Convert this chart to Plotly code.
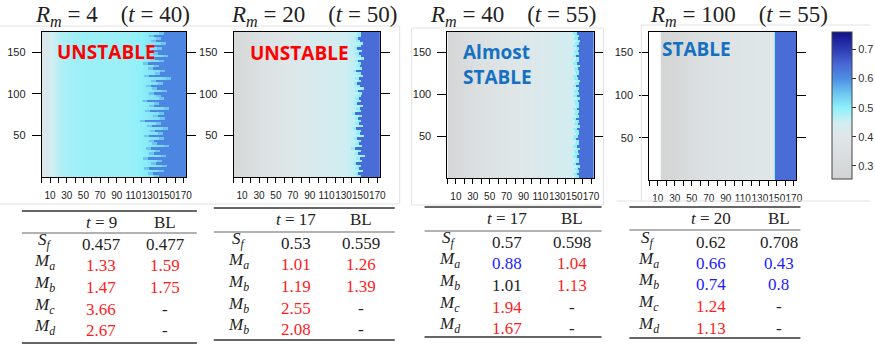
import plotly.graph_objects as go

W, H = 875, 347

# ---------------- data ----------------
titles_rm = ["4", "20", "40", "100"]
titles_t = ["40", "50", "55", "55"]
status_text = ["UNSTABLE", "UNSTABLE", "Almost<br>STABLE", "STABLE"]

# background profile anchors (x position -> value)
bg_x = [0, 10, 20, 30, 40, 50, 60, 70, 80, 90, 100, 110, 120, 130, 140, 150, 160, 170]
bg1 = [0.39, 0.44, 0.47, 0.48, 0.485, 0.49, 0.49, 0.49, 0.49, 0.49, 0.49, 0.495, 0.50, 0.51, 0.52, 0.53, 0.54, 0.55]
bg2 = [0.29, 0.31, 0.33, 0.35, 0.37, 0.385, 0.395, 0.405, 0.415, 0.42, 0.43, 0.435, 0.44, 0.45, 0.46, 0.47, 0.48, 0.49]
bg3 = [0.28, 0.30, 0.32, 0.34, 0.355, 0.37, 0.38, 0.39, 0.40, 0.405, 0.41, 0.415, 0.42, 0.43, 0.44, 0.45, 0.46, 0.47]
bg_x4 = [19, 30, 40, 50, 60, 70, 80, 90, 100, 110, 120, 130, 140, 150, 160, 170]
bg4 = [0.27, 0.29, 0.31, 0.33, 0.345, 0.36, 0.37, 0.38, 0.385, 0.39, 0.395, 0.40, 0.40, 0.405, 0.41, 0.41]

# front position (x) of the high-value region for each row (bottom -> top)
front1 = [141, 133, 147, 129, 150, 137, 144, 127, 149, 135,
          142, 131, 153, 138, 134, 146, 128, 145, 136, 151,
          132, 143, 124, 148, 139, 146, 130, 152, 135, 141,
          126, 147, 143, 134, 150, 138, 131, 145, 137, 155,
          129, 142, 148, 133, 140, 127, 146, 136, 151, 139,
          132, 144, 130, 149, 137, 143, 135, 147]
front2 = [150, 147, 153, 148, 151, 145, 152, 149, 155, 147,
          150, 143, 152, 148, 151, 146, 154, 149, 150, 145,
          153, 148, 151, 147, 152, 144, 150, 149, 153, 146,
          151, 148, 150, 152, 147, 154, 149, 146, 151, 148,
          153, 150, 145, 152, 149, 151, 147, 154, 150, 148,
          152, 146, 150, 153, 149, 147, 151, 150]
front3 = [155, 153, 156, 154, 157, 152, 155, 156, 153, 155,
          154, 157, 153, 155, 156, 152, 154, 156, 155, 153,
          157, 154, 155, 152, 156, 154, 155, 153, 156, 155,
          154, 157, 153, 155, 154, 156, 152, 155, 157, 154,
          153, 156, 155, 154, 157, 153, 155, 156, 152, 155,
          154, 156, 153, 155, 157, 154, 155, 153]
front4 = [148] * 58
front_val = [0.61, 0.645, 0.64, 0.645]
fringe_val = [0.55, 0.50, 0.50, 0.50]
fringe_w = [6, 4, 4, 2]

# tables
row_labels = [
    ["S_f", "M_a", "M_b", "M_c", "M_d"],
    ["S_f", "M_a", "M_b", "M_b", "M_b"],
    ["S_f", "M_a", "M_b", "M_c", "M_d"],
    ["S_f", "M_a", "M_b", "M_c", "M_d"],
]
t_head = ["9", "17", "17", "20"]
t_vals = [
    ["0.457", "1.33", "1.47", "3.66", "2.67"],
    ["0.53", "1.01", "1.19", "2.55", "2.08"],
    ["0.57", "0.88", "1.01", "1.94", "1.67"],
    ["0.62", "0.66", "0.74", "1.24", "1.13"],
]
bl_vals = [
    ["0.477", "1.59", "1.75", "-", "-"],
    ["0.559", "1.26", "1.39", "-", "-"],
    ["0.598", "1.04", "1.13", "-", "-"],
    ["0.708", "0.43", "0.8", "-", "-"],
]
# k = black, r = red, b = blue
t_cols = [list("krrrr"), list("krrrr"), list("kbkrr"), list("kbbrr")]
bl_cols = [list("krrkk"), list("krrkk"), list("krrkk"), list("kbbkk")]

cbar_ticks = [0.3, 0.4, 0.5, 0.6, 0.7]
x_labels = [10, 30, 50, 70, 90, 110, 130, 150, 170]
y_labels = [50, 100, 150]

# ---------------- helpers ----------------
def px(x):
    return x / W

def py(y):
    return 1 - y / H

COL = {"k": "#222222", "r": "#ff1c1c", "b": "#1c1cff"}
colorscale = [
    [0.0, "#d3d3d3"],
    [0.287, "#dfe6e8"],
    [0.386, "#d0eef2"],
    [0.485, "#8ef0fa"],
    [0.584, "#6cc4f0"],
    [0.683, "#4e8ee4"],
    [0.782, "#4868d6"],
    [0.88, "#2f3cb4"],
    [1.0, "#10108a"],
]

row_y = [1.5 + 3 * i for i in range(58)]
col_x = [0.5 + i for i in range(175)]

def front_z(front, fval, fr_val, fr_w):
    z = []
    for f in front:
        row = []
        for c in col_x:
            if c >= f:
                row.append(fval)
            elif c >= f - fr_w:
                row.append(fr_val)
            else:
                row.append(None)
        z.append(row)
    return z

# panel geometry in pixels (left, right, top, bottom)
panels = [(42, 187, 32, 177), (235, 382, 32, 177), (450, 597, 32, 178), (653, 801, 32, 180)]
bgs = [(bg_x, bg1), (bg_x, bg2), (bg_x, bg3), (bg_x4, bg4)]
fronts = [front1, front2, front3, front4]

fig = go.Figure()
layout = dict(
    width=W, height=H, margin=dict(l=0, r=0, t=0, b=0),
    paper_bgcolor="white", plot_bgcolor="white", showlegend=False,
    coloraxis=dict(
        colorscale=colorscale, cmin=0.255, cmax=0.76,
        colorbar=dict(
            x=px(837), xanchor="left", xref="paper", xpad=0, ypad=0,
            y=py(32), yanchor="top", len=147 / H, lenmode="fraction",
            thickness=20, thicknessmode="pixels",
            outlinecolor="#444", outlinewidth=1,
            tickvals=cbar_ticks, ticktext=[str(v) for v in cbar_ticks],
            ticks="outside", ticklen=4, tickcolor="#333",
            tickfont=dict(family="Liberation Sans", size=11, color="#333"),
        ),
    ),
)

shapes = []
annotations = []

for i, (l, r, t, b) in enumerate(panels):
    n = "" if i == 0 else str(i + 1)
    xa, ya = "x" + n, "y" + n
    bx, bz = bgs[i]
    fig.add_trace(go.Heatmap(x=bx, y=[0, 175], z=[bz, bz], coloraxis="coloraxis",
                             zsmooth="best", xaxis=xa, yaxis=ya, hoverinfo="skip"))
    fig.add_trace(go.Heatmap(x=col_x, y=row_y,
                             z=front_z(fronts[i], front_val[i], fringe_val[i], fringe_w[i]),
                             coloraxis="coloraxis", xaxis=xa, yaxis=ya, hoverinfo="skip"))
    layout["xaxis" + n] = dict(
        domain=[px(l), px(r)], range=[0, 173], anchor=ya,
        showgrid=False, zeroline=False, showline=True, linecolor="black", linewidth=1,
        mirror=True, ticks="outside", ticklen=5, tickcolor="black", tickangle=0,
        tickmode="array", tickvals=x_labels, ticklabelstandoff=4,
        minor=dict(tick0=0, dtick=10, ticks="outside", ticklen=5, tickcolor="black", showgrid=False),
        tickfont=dict(family="Liberation Sans", size=10, color="#222"),
    )
    layout["yaxis" + n] = dict(
        domain=[py(b), py(t)], range=[0.5, 174], anchor=xa,
        showgrid=False, zeroline=False, showline=True, linecolor="black", linewidth=1,
        mirror="ticks", ticks="outside", ticklen=9, tickcolor="black",
        tickvals=y_labels, ticklabelstandoff=4,
        tickfont=dict(family="Liberation Sans", size=11, color="#222"),
    )

# titles
title_cx = [113, 316, 516, 743]
for i in range(4):
    annotations.append(dict(
        x=px(title_cx[i]), y=py(16), xref="paper", yref="paper",
        xanchor="center", yanchor="middle", showarrow=False,
        text="<i>R</i><sub><i>m</i></sub> = " + titles_rm[i] + "\u00a0\u00a0\u00a0\u00a0(<i>t</i> = " + titles_t[i] + ")",
        font=dict(family="Liberation Serif", size=23, color="#222"),
    ))

# status labels
status_pos = [(107, 52, "center", "#ff0000"), (301, 53, "center", "#ff0000"),
              (464, 64, "left", "#1570c2"), (664, 49, "left", "#1570c2")]
for i, (sx, sy, anc, c) in enumerate(status_pos):
    annotations.append(dict(
        x=px(sx), y=py(sy), xref="paper", yref="paper", xanchor=anc, yanchor="middle",
        showarrow=False, align="left", text="<b>" + status_text[i] + "</b>",
        font=dict(family="Open Sans", size=19, color=c),
    ))

# faint screenshot frames
def fline(x0, y0, x1, y1):
    shapes.append(dict(type="line", xref="paper", yref="paper", x0=px(x0), y0=py(y0),
                       x1=px(x1), y1=py(y1), line=dict(color="#e2e2e2", width=1)))

fline(0, 26, 402, 26); fline(402, 26, 402, 204); fline(0, 204, 402, 204)
fline(414, 28, 607, 28); fline(414, 28, 414, 205); fline(607, 28, 607, 205); fline(414, 205, 607, 205)
fline(645, 25, 875, 25); fline(645, 25, 645, 201); fline(620, 201, 875, 201)

# tables
tables = [
    dict(x0=22, x1=198, top=211, head=222, mid=233, rows=[243, 264, 286, 308, 329], bot=343, cl=45, ct=102, cb=166),
    dict(x0=215, x1=397, top=208, head=219, mid=232, rows=[242, 263, 285, 307, 328], bot=340, cl=240, ct=298, cb=363),
    dict(x0=427, x1=605, top=207, head=218, mid=231, rows=[241, 262, 284, 306, 327], bot=337, cl=452, ct=510, cb=575),
    dict(x0=633, x1=805, top=207, head=218, mid=230, rows=[241, 262, 283, 305, 327], bot=338, cl=652, ct=715, cb=783),
]

def label_html(s):
    a, sub = s.split("_")
    return "<i>" + a + "</i><sub><i>" + sub + "</i></sub>"

TF = "Liberation Serif"
for i, tb in enumerate(tables):
    for yy, w in ((tb["top"], 2), (tb["mid"], 1.2), (tb["bot"], 2)):
        shapes.append(dict(type="line", xref="paper", yref="paper", x0=px(tb["x0"]), x1=px(tb["x1"]),
                           y0=py(yy), y1=py(yy), line=dict(color="#666", width=w)))
    annotations.append(dict(x=px(tb["ct"]), y=py(tb["head"]), xref="paper", yref="paper",
                            showarrow=False, xanchor="center", yanchor="middle",
                            text="<i>t</i> = " + t_head[i], font=dict(family=TF, size=17, color="#222")))
    annotations.append(dict(x=px(tb["cb"]), y=py(tb["head"]), xref="paper", yref="paper",
                            showarrow=False, xanchor="center", yanchor="middle",
                            text="BL", font=dict(family=TF, size=17, color="#222")))
    for j, ry in enumerate(tb["rows"]):
        annotations.append(dict(x=px(tb["cl"]), y=py(ry - 2), xref="paper", yref="paper",
                                showarrow=False, xanchor="center", yanchor="middle",
                                text=label_html(row_labels[i][j]), font=dict(family=TF, size=17, color="#222")))
        annotations.append(dict(x=px(tb["ct"]), y=py(ry + 1), xref="paper", yref="paper",
                                showarrow=False, xanchor="center", yanchor="middle",
                                text=t_vals[i][j], font=dict(family=TF, size=17, color=COL[t_cols[i][j]])))
        annotations.append(dict(x=px(tb["cb"]), y=py(ry + 1), xref="paper", yref="paper",
                                showarrow=False, xanchor="center", yanchor="middle",
                                text=bl_vals[i][j], font=dict(family=TF, size=17, color=COL[bl_cols[i][j]])))

layout["shapes"] = shapes
layout["annotations"] = annotations
fig.update_layout(**layout)
fig.write_html("out.html")
